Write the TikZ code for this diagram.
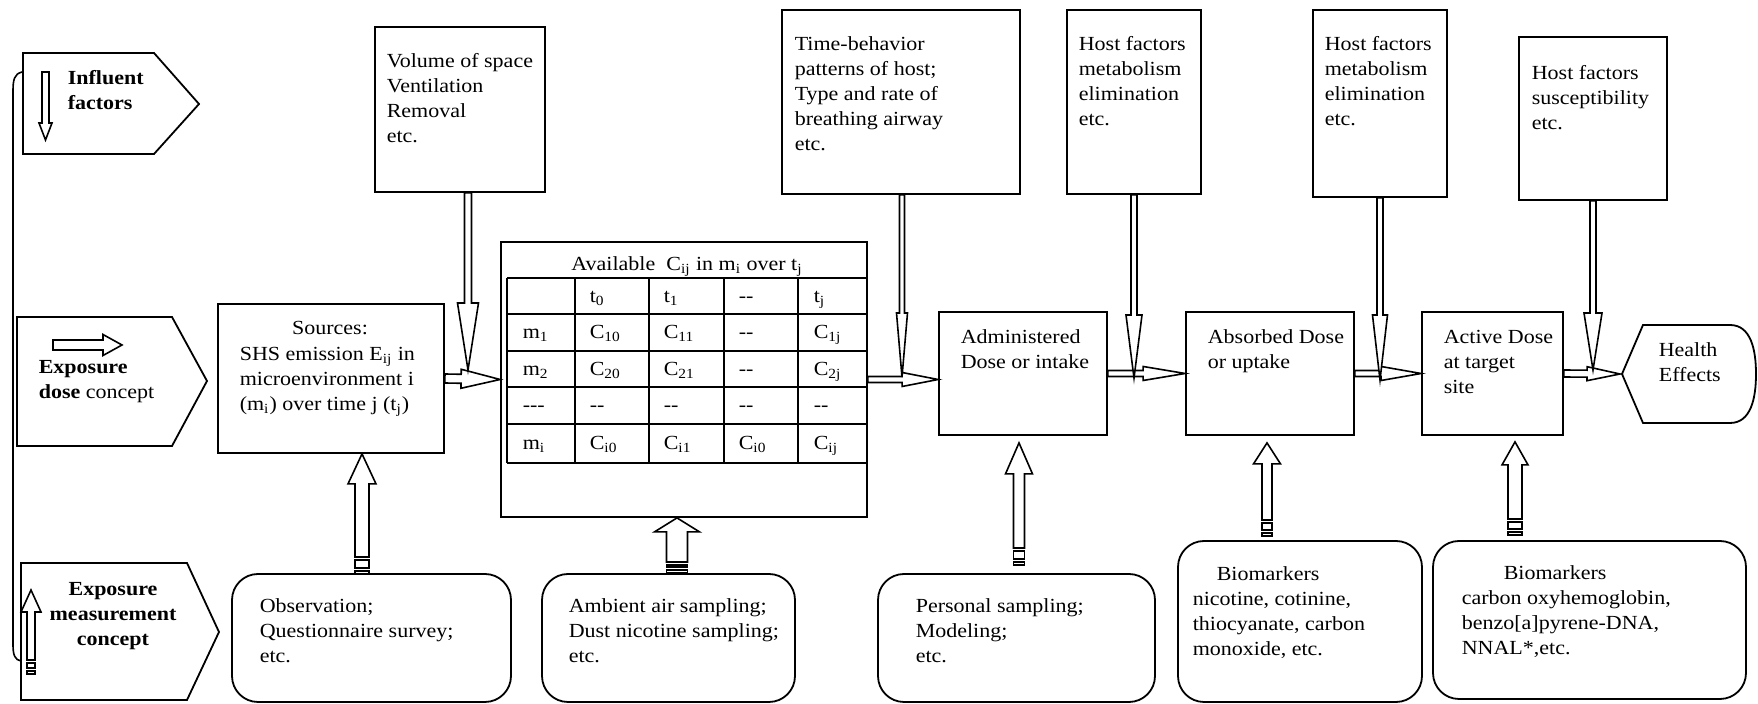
\documentclass[tikz,border=0pt]{standalone}
\usepackage{fontspec}
\setmainfont{Liberation Serif}[FakeStretch = 1.1]
\usetikzlibrary{calc, fit}
\tikzset{
    box/.style = {draw, line width = 0.9pt, inner sep = 0pt},
    roundbox/.style = {box, rounded corners = 13pt},
    txt/.style = {anchor = north west, inner sep = 0pt, align = left},
    hdr/.style = {txt, font = \fontsize{10}{12.5}\selectfont\bfseries},
    cell/.style = {anchor = base west, inner sep = 0pt}
}
% block arrow: start, end, half shaft, head length, half head
\newcommand{\fatarrow}[5]{%
    \coordinate (fa-s) at (#1);
    \coordinate (fa-e) at (#2);
    \coordinate (fa-h) at ($(fa-e)!#4!(fa-s)$);
    \draw [fill = white] ($(fa-s)!#3!90:(fa-e)$) -- ($(fa-h)!#3!90:(fa-e)$) -- ($(fa-h)!#5!90:(fa-e)$) -- (fa-e)
        -- ($(fa-h)!#5!-90:(fa-e)$) -- ($(fa-h)!#3!-90:(fa-e)$) -- ($(fa-s)!#3!-90:(fa-e)$) -- cycle;
}
% two bars under the last arrow's tail
\newcommand{\tailbars}[2]{%
    \draw [fill = white] ($(fa-s)+(-#1,3)$) rectangle ($(fa-s)+(#1,3+#2)$)
        ($(fa-s)+(-#1,6+#2)$) rectangle ($(fa-s)+(#1,9+#2)$);
}

\begin{document}
\begin{tikzpicture}[x = 0.5pt, y = -0.5pt, font = \fontsize{10}{12.5}\selectfont, line width = 0.8pt]
    \useasboundingbox [fill = white] (0, 0) rectangle (1758, 704);

    % legend on the left
    \draw [line width = 0.9pt] (23, 53) -- (154, 53) -- (199, 104) -- (154, 154) -- (23, 154) -- cycle;
    \fatarrow{45.5, 72}{45.5, 140}{1.75pt}{8.5pt}{3.25pt}
    \node [hdr] (inf-t) at (67, 70) {Influent\\factors};
    \draw [line width = 0.9pt] (17, 317) -- (172, 317) -- (207, 381) -- (172, 446) -- (17, 446) -- cycle;
    \fatarrow{53, 345}{122, 345}{2.5pt}{9.5pt}{5.25pt}
    \node [txt] (dose-t) at (38, 360) {\textbf{Exposure}\\\textbf{dose} concept};
    \draw [line width = 0.9pt] (21, 563) -- (187, 563) -- (219, 632) -- (187, 700) -- (21, 700) -- cycle;
    \fatarrow{31, 660}{31, 590}{2pt}{11pt}{5pt}
    \tailbars{4}{5}
    \node [hdr, anchor = north, align = center] (meas-t) at (113, 582) {Exposure\\measurement\\concept};
    \draw (22, 72) .. controls (14, 74) and (13, 80) .. (13, 92) -- (13, 645) .. controls (13, 655) and (15, 660) .. (21, 661);

    % influent factors
    \node [box, fit = {(375, 27) (545, 192)}] (vol) {};
    \node [txt] (vol-t) at (386, 53) {Volume of space\\Ventilation\\Removal\\etc.};
    \node [box, fit = {(782, 10) (1020, 194)}] (tbh) {};
    \node [txt] (tbh-t) at (794, 36) {Time-behavior\\patterns of host;\\Type and rate of\\breathing airway\\etc.};
    \node [box, fit = {(1067, 10) (1201, 194)}] (hf1) {};
    \node [txt] (hf1-t) at (1078, 36) {Host factors\\metabolism\\elimination\\etc.};
    \node [box, fit = {(1313, 10) (1447, 197)}] (hf2) {};
    \node [txt] (hf2-t) at (1324, 36) {Host factors\\metabolism\\elimination\\etc.};
    \node [box, fit = {(1519, 37) (1667, 200)}] (hf3) {};
    \node [txt] (hf3-t) at (1531, 65) {Host factors\\susceptibility\\etc.};

    % exposure dose chain
    \node [box, fit = {(218, 304) (444, 453)}] (src) {};
    \node [anchor = base, inner sep = 0pt] (src-h) at (330, 334.6) {Sources:};
    \node [txt] (src-t) at (239, 346) {SHS emission E\textsubscript{ij} in\\microenvironment i\\(m\textsubscript{i}) over time j (t\textsubscript{j})};

    \node [box, fit = {(501, 242) (867, 517)}] (tab) {};
    \node [anchor = base, inner sep = 0pt] (tab-h) at (687, 271) {Available\ \ C\textsubscript{ij} in m\textsubscript{i} over t\textsubscript{j}};
    \foreach \x in {507, 575, 649, 724, 798, 867}
        \draw [line width = 0.9pt] (\x, 278) -- (\x, 463);
    \foreach \y in {278, 314, 351, 387, 424, 463}
        \draw [line width = 0.9pt] (507, \y) -- (867, \y);
    \foreach \r/\y/\a/\b/\c/\d/\e in {
        0/302.6/{}/t\textsubscript{0}/t\textsubscript{1}/-{}-/t\textsubscript{j},
        1/339/m\textsubscript{1}/C\textsubscript{10}/C\textsubscript{11}/-{}-/C\textsubscript{1j},
        2/375.6/m\textsubscript{2}/C\textsubscript{20}/C\textsubscript{21}/-{}-/C\textsubscript{2j},
        3/412/-{}-{}-/-{}-/-{}-/-{}-/-{}-,
        4/450/m\textsubscript{i}/C\textsubscript{i0}/C\textsubscript{i1}/C\textsubscript{i0}/C\textsubscript{ij}} {
        \node [cell] (c\r-1) at (522, \y) {\a};
        \node [cell] (c\r-2) at (589, \y) {\b};
        \node [cell] (c\r-3) at (663, \y) {\c};
        \node [cell] (c\r-4) at (738, \y) {\d};
        \node [cell] (c\r-5) at (813, \y) {\e};
    }

    \node [box, fit = {(939, 312) (1107, 435)}] (adm) {};
    \node [txt] (adm-t) at (960, 329) {Administered\\Dose or intake};
    \node [box, fit = {(1186, 312) (1354, 435)}] (abs) {};
    \node [txt] (abs-t) at (1207, 329) {Absorbed Dose\\or uptake};
    \node [box, fit = {(1422, 312) (1563, 435)}] (act) {};
    \node [txt] (act-t) at (1443, 329) {Active Dose\\at target\\site};
    \draw [line width = 0.9pt] (1622, 374) -- (1643, 325) -- (1730, 325) .. controls (1751, 325) and (1756, 350) .. (1756, 374)
        .. controls (1756, 398) and (1751, 423) .. (1730, 423) -- (1643, 423) -- cycle;
    \coordinate (hlth) at (1620, 374);
    \node [txt] (hlth-t) at (1658, 342) {Health\\Effects};

    % measurement methods
    \node [roundbox, fit = {(232, 574) (511, 702)}] (obs) {};
    \node [txt] (obs-t) at (259, 598) {Observation;\\Questionnaire survey;\\etc.};
    \node [roundbox, fit = {(542, 574) (795, 702)}] (amb) {};
    \node [txt] (amb-t) at (568, 598) {Ambient air sampling;\\Dust nicotine sampling;\\etc.};
    \node [roundbox, fit = {(878, 574) (1155, 702)}] (per) {};
    \node [txt] (per-t) at (915, 598) {Personal sampling;\\Modeling;\\etc.};
    \node [roundbox, fit = {(1178, 541) (1422, 702)}] (bio1) {};
    \node [txt] (bio1-t) at (1192, 566) {\hspace*{12pt}Biomarkers\\nicotine, cotinine,\\thiocyanate, carbon\\monoxide, etc.};
    \node [roundbox, fit = {(1433, 541) (1746, 699)}] (bio2) {};
    \node [txt] (bio2-t) at (1461, 565) {\hspace*{21pt}Biomarkers\\carbon oxyhemoglobin,\\benzo[a]pyrene-DNA,\\NNAL*,etc.};

    % horizontal arrows
    \fatarrow{src.east}{tab.west}{2.25pt}{19.5pt}{4.75pt}
    \fatarrow{tab.east}{adm.west |- tab.east}{1.5pt}{18pt}{3.5pt}
    \fatarrow{adm.east}{abs.west}{1.5pt}{21pt}{3.5pt}
    \fatarrow{abs.east}{act.west}{1.5pt}{20pt}{3.5pt}
    \fatarrow{act.east}{hlth}{1.75pt}{16.5pt}{3.5pt}

    % arrows down from the factors
    \coordinate (j-vol) at (468, 370);
    \coordinate (j-tbh) at (902, 377);
    \coordinate (j-hf1) at (1134, 378);
    \coordinate (j-hf2) at (1380, 380);
    \coordinate (j-hf3) at (1593, 370);
    \fatarrow{vol.south -| j-vol}{j-vol}{1.75pt}{33.5pt}{5.25pt}
    \fatarrow{tbh.south -| j-tbh}{j-tbh}{1.25pt}{32pt}{2.75pt}
    \fatarrow{hf1.south -| j-hf1}{j-hf1}{1.5pt}{31.5pt}{4pt}
    \fatarrow{hf2.south -| j-hf2}{j-hf2}{1.5pt}{32.5pt}{3.75pt}
    \fatarrow{hf3.south -| j-hf3}{j-hf3}{1.5pt}{28.5pt}{4.5pt}

    % arrows up from the measurements
    \coordinate (u-obs) at (362, 557);
    \coordinate (u-amb) at (677, 562);
    \coordinate (u-per) at (1019, 548);
    \coordinate (u-bio1) at (1267, 520);
    \coordinate (u-bio2) at (1515, 519);
    \fatarrow{u-obs}{u-obs |- src.south}{3.5pt}{15pt}{7pt}
    \tailbars{7}{8}
    \fatarrow{u-amb}{u-amb |- tab.south}{5.25pt}{7pt}{11.25pt}
    \tailbars{10.5}{2}
    \fatarrow{u-per}{$(u-per |- adm.south)+(0, 7)$}{2.75pt}{15.5pt}{6.75pt}
    \tailbars{5.5}{8}
    \fatarrow{u-bio1}{$(u-bio1 |- abs.south)+(0, 7)$}{2.5pt}{10.5pt}{6.75pt}
    \tailbars{5}{7}
    \fatarrow{u-bio2}{$(u-bio2 |- act.south)+(0, 6)$}{3.5pt}{11.5pt}{6.5pt}
    \tailbars{7}{7}
\end{tikzpicture}
\end{document}
